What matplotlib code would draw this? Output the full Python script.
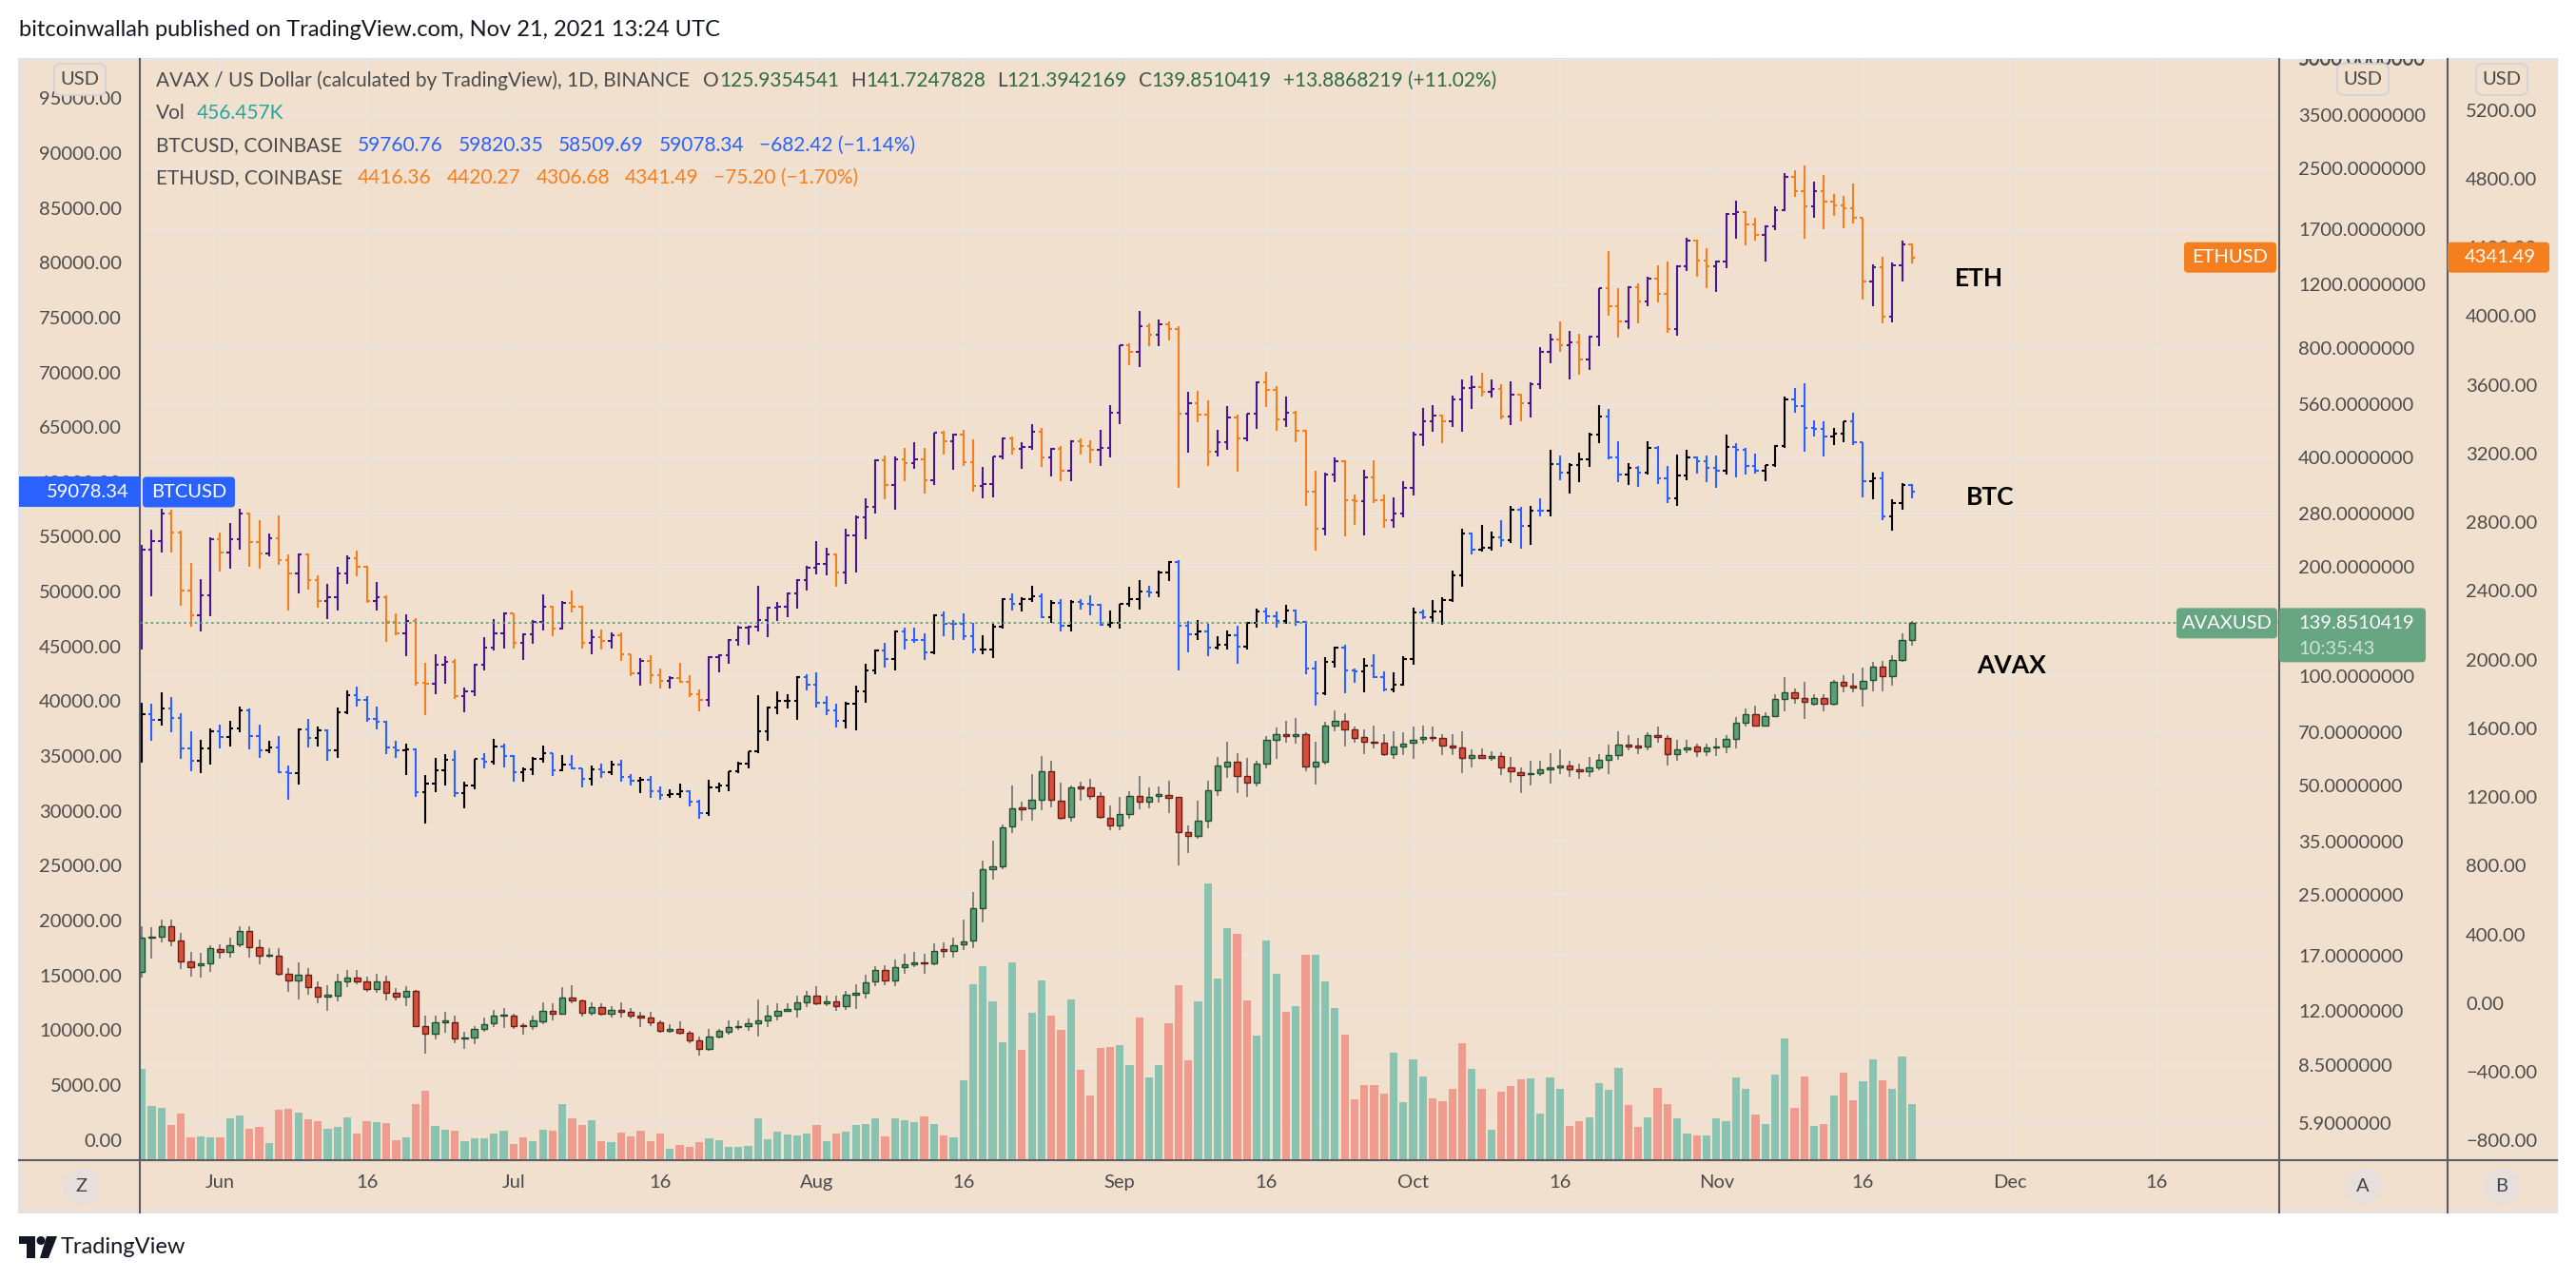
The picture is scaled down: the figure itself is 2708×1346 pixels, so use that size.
import matplotlib
matplotlib.use("Agg")
import matplotlib.pyplot as plt
import matplotlib.dates as mdates
import matplotlib.transforms as mtransforms
from matplotlib.collections import LineCollection
from matplotlib.patches import Rectangle, FancyBboxPatch, Circle, Polygon
from matplotlib.lines import Line2D
from matplotlib.ticker import FuncFormatter, NullLocator
import pandas as pd

plt.rcParams['font.family'] = ['Lato', 'DejaVu Sans']

# ------------------------------------------------------------------ data
dates = pd.date_range('2021-05-24', '2021-11-21', freq='D')

# AVAX/USD (Binance) daily candles
avax_o = [15.3, 19.1, 19.15, 20.5, 18.7, 16.4, 15.98, 16.24,
          17.75, 17.45, 18.3, 19.9, 17.9, 16.95, 17.0, 15.2, 14.55, 15.1, 13.9, 13.1, 13.2, 14.4, 14.8, 14.4, 13.8, 14.45, 13.4, 13.1, 13.6, 10.9, 10.35, 11.15, 11.15, 10.05, 10.1, 10.66, 11.05, 11.6,
          11.65, 10.95, 10.9, 11.2, 12.0, 11.8, 13.0, 12.8, 11.85, 12.25, 11.8, 12.05, 11.9, 11.6, 11.5, 11.15, 10.55, 10.7, 10.4, 9.95, 9.4, 10.17, 10.5, 10.8, 10.9, 11.05, 11.25, 11.6, 12.0, 12.15, 12.65,
          13.2, 12.55, 12.7, 12.35, 13.3, 13.45, 14.4, 15.5, 14.5, 15.8, 16.1, 16.3, 16.2, 17.75, 17.55, 18.3, 18.75, 22.97, 29.4, 30.0, 38.6, 43.5, 43.3, 45.8, 54.8, 45.4, 41.0, 49.7, 49.3, 46.8, 40.7,
          38.8, 41.6, 46.7, 45.2, 46.7, 47.2, 46.5, 37.3, 36.3, 40.1, 48.5, 56.4, 58.1, 53.0, 51.0, 57.3, 66.9, 69.4, 68.6, 69.4, 56.4, 58.1, 73.3, 75.5, 71.2, 67.8, 66.1, 65.6, 60.9, 64.2,
          65.4, 67.0, 68.0, 67.6, 64.4, 63.7, 59.4, 60.6, 59.6, 60.1, 56.0, 54.4, 53.6, 54.1, 55.5, 55.9, 56.6, 55.5, 54.8, 56.0, 58.7, 60.7, 64.8, 64.4, 63.9, 69.0, 67.6, 61.1, 63.0, 63.9, 62.0,
          63.5, 64.0, 67.2, 74.6, 78.4, 73.1, 77.8, 86.6, 90.2, 87.0, 84.2, 87.0, 84.2, 96.3, 94.4, 92.6, 97.5, 106.1, 99.8, 110.9, 125.9354541]
avax_h = [20.5, 20.4, 21.4, 21.4, 19.6, 17.4, 17.3, 18.2,
          18.3, 19.1, 20.5, 20.5, 18.8, 17.8, 17.8, 15.7, 16.3, 15.7, 14.4, 14.1, 15.2, 15.5, 15.5, 14.85, 15.2, 15.0, 13.85, 14.0, 13.7, 11.65, 11.65, 11.9, 11.65, 10.5, 10.9, 11.5, 12.07, 12.2,
          11.8, 11.1, 11.6, 12.65, 12.55, 13.9, 14.1, 12.9, 12.65, 12.55, 12.35, 12.65, 12.2, 11.9, 11.9, 11.25, 11.0, 11.2, 10.55, 10.2, 10.7, 10.7, 11.3, 11.3, 11.4, 12.9, 12.45, 12.55, 12.6, 13.2, 13.6,
          14.05, 13.2, 13.2, 13.6, 14.2, 15.1, 15.95, 16.0, 16.6, 17.2, 17.4, 17.2, 18.4, 18.45, 19.0, 21.4, 25.5, 31.0, 35.2, 39.1, 50.0, 45.0, 53.8, 60.2, 58.5, 51.0, 50.0, 51.2, 52.3, 47.9, 44.0,
          46.5, 48.3, 53.0, 49.5, 49.7, 51.6, 46.6, 38.7, 45.3, 51.6, 59.8, 66.1, 61.2, 59.4, 58.4, 68.5, 72.0, 75.3, 76.7, 69.9, 66.1, 74.7, 80.3, 79.0, 72.7, 71.4, 73.3, 69.4, 70.3, 69.9,
          72.7, 73.3, 72.7, 69.4, 69.4, 70.3, 62.8, 63.2, 62.1, 61.6, 59.8, 56.0, 58.3, 58.3, 61.5, 62.8, 58.5, 57.3, 59.8, 61.1, 64.6, 70.5, 68.7, 67.6, 70.2, 72.5, 69.0, 66.7, 66.7, 65.0, 65.0,
          67.4, 68.7, 77.2, 81.4, 82.7, 79.4, 89.1, 99.6, 92.2, 96.7, 89.1, 89.1, 97.9, 100.3, 101.9, 105.7, 109.2, 110.0, 114.1, 130.8, 141.7247828]
avax_l = [14.8, 16.7, 18.5, 18.0, 15.6, 14.9, 14.8, 15.3,
          16.7, 16.8, 17.9, 16.8, 16.1, 16.8, 15.0, 13.5, 12.9, 13.3, 12.55, 12.0, 12.7, 13.9, 14.2, 13.5, 13.4, 12.8, 12.8, 12.36, 10.8, 9.15, 10.0, 10.4, 9.75, 9.4, 9.7, 10.5, 10.8, 10.75,
          10.7, 10.3, 10.6, 11.0, 11.25, 11.7, 12.55, 11.55, 11.65, 11.6, 11.5, 11.5, 11.4, 10.8, 10.85, 10.45, 10.4, 10.3, 9.75, 9.0, 9.3, 10.05, 10.3, 10.6, 10.55, 10.17, 10.8, 11.3, 11.95, 11.5, 12.3,
          12.4, 12.35, 12.0, 12.05, 12.15, 12.95, 14.05, 14.1, 14.0, 15.2, 15.8, 15.15, 16.0, 16.8, 16.8, 17.6, 17.8, 21.0, 27.5, 29.4, 37.0, 39.9, 39.9, 42.7, 43.5, 40.2, 39.8, 45.3, 45.7, 40.4, 37.7,
          37.7, 40.4, 42.9, 43.2, 44.8, 42.1, 30.2, 32.5, 35.66, 38.1, 46.7, 52.6, 47.6, 46.5, 49.7, 55.6, 59.2, 65.6, 65.2, 54.6, 50.3, 57.2, 70.7, 63.9, 65.6, 60.9, 63.2, 60.4, 59.2, 60.8,
          59.2, 65.2, 66.1, 60.8, 60.6, 54.1, 56.0, 59.2, 58.6, 53.3, 51.0, 47.6, 50.0, 53.2, 50.7, 53.9, 52.8, 52.2, 52.8, 55.0, 53.7, 58.7, 62.3, 61.1, 62.3, 65.7, 56.6, 58.5, 61.5, 59.8, 60.3,
          60.3, 61.5, 63.3, 72.5, 72.5, 72.5, 77.2, 79.8, 83.8, 76.2, 82.7, 80.1, 82.7, 90.2, 90.2, 82.4, 90.97, 90.97, 94.0, 109.2, 121.3942169]
avax_c = [19.1, 19.15, 20.5, 18.7, 16.4, 15.8, 16.24, 17.8,
          17.45, 18.2, 19.9, 17.9, 17.0, 17.05, 15.2, 14.55, 15.1, 13.9, 13.1, 13.25, 14.4, 14.8, 14.4, 13.8, 14.45, 13.4, 13.1, 13.6, 10.9, 10.35, 11.15, 11.25, 10.05, 10.1, 10.66, 10.98, 11.6, 11.7,
          10.9, 10.9, 11.25, 12.0, 11.8, 13.0, 12.8, 11.85, 12.25, 11.8, 12.05, 11.9, 11.65, 11.5, 11.15, 10.55, 10.7, 10.4, 9.95, 9.4, 10.17, 10.54, 10.8, 10.9, 11.05, 11.25, 11.6, 12.0, 12.15, 12.65, 13.2,
          12.55, 12.7, 12.35, 13.3, 13.45, 14.35, 15.5, 14.55, 15.8, 16.1, 16.3, 16.15, 17.5, 17.55, 18.2, 18.6, 22.97, 29.43, 30.0, 38.4, 43.3, 43.1, 45.8, 54.8, 45.8, 40.8, 49.4, 49.2, 46.8, 40.9, 38.8,
          41.6, 46.7, 45.2, 46.5, 47.4, 46.2, 37.3, 36.3, 40.1, 48.5, 56.6, 58.1, 53.0, 51.0, 57.3, 66.9, 69.4, 68.4, 69.4, 56.4, 58.1, 73.1, 75.5, 71.4, 67.6, 66.1, 65.4, 60.9, 64.2, 65.0,
          66.6, 68.0, 67.6, 64.4, 63.7, 59.4, 60.6, 59.6, 60.1, 56.0, 54.6, 53.4, 54.1, 55.5, 56.0, 56.6, 55.5, 54.8, 56.0, 58.7, 60.5, 64.8, 64.2, 63.7, 68.7, 67.9, 61.1, 63.0, 63.7, 62.0, 63.5,
          64.0, 67.2, 74.6, 78.4, 73.1, 77.8, 86.6, 90.2, 87.3, 84.9, 87.0, 84.2, 96.3, 94.4, 93.0, 96.8, 106.1, 100.2, 110.9, 125.96422, 139.8510419]
# AVAX volume, thousands
avax_vol = [745, 443, 424, 286, 382, 188, 195, 188,
            188, 344, 366, 255, 275, 141, 412, 420, 389, 336, 317, 255, 271, 352, 217, 317, 309, 302, 164, 188, 456, 569, 279, 248, 242, 157, 180, 180, 217, 242,
            134, 188, 157, 248, 242, 456, 344, 286, 329, 155, 151, 224, 196, 242, 159, 219, 91, 123, 110, 146, 178, 164, 110, 110, 119, 342, 169, 233, 210, 201, 219,
            288, 156, 219, 233, 288, 296, 342, 196, 342, 329, 310, 356, 296, 201, 187, 652, 1438, 1588, 1301, 963, 1620, 904, 1205, 1470, 1182, 1063, 1314, 738, 529, 919, 924,
            942, 776, 1166, 677, 776, 1119, 1433, 819, 1300, 2262, 1486, 1900, 1852, 1305, 1019, 1795, 1524, 1215, 1262, 1681, 1681, 1462, 1243, 1029, 500, 614, 614, 543, 881, 476,
            823, 686, 505, 481, 586, 957, 747, 586, 247, 562, 605, 662, 666, 381, 674, 584, 281, 319, 350, 631, 573, 753, 451, 271, 350, 589, 456, 340, 218, 201, 201,
            340, 319, 674, 584, 372, 297, 701, 998, 430, 685, 281, 297, 531, 717, 488, 648, 823, 653, 584, 849, 456.457]

# BTCUSD (Coinbase) daily bars
btc_o = [34700, 38800, 38300, 39300, 38450, 35700, 34600, 35700,
         37300, 36700, 37550, 39200, 36850, 35520, 35800, 33560, 33400, 37390, 36680, 37330, 35550, 39020, 40530, 40140, 38350, 38090, 35820, 35480, 35600, 31680, 32500, 33680, 34660, 31590, 32270, 34700, 34490, 35870,
         35040, 33520, 33800, 34700, 35290, 33690, 34220, 33860, 32880, 33810, 33510, 34260, 33100, 32720, 32820, 31780, 31420, 31520, 31780, 30840, 29790, 32140, 32290, 33580, 34290, 35400, 37270, 39460, 40020, 40020, 42240,
         41490, 39850, 39150, 38190, 39740, 40870, 42830, 44630, 43830, 46330, 45600, 45570, 44420, 47830, 47100, 47030, 45940, 44690, 44700, 46760, 49340, 48880, 49300, 49550, 47700, 48990, 46850, 49080, 48910, 48810, 46990,
         47150, 48850, 49280, 50030, 49940, 51770, 52660, 46860, 46070, 46400, 44850, 45160, 46060, 44960, 47110, 48150, 47760, 47300, 48310, 47250, 43010, 40700, 43570, 44890, 42840, 42700, 43210, 42200, 41040, 41520,
         43820, 48140, 47670, 48200, 49250, 51490, 55340, 53800, 53970, 54960, 54680, 57490, 56000, 57370, 57360, 61670, 60880, 61530, 62040, 64300, 66000, 62200, 60690, 61300, 60850, 63080, 60330, 58470, 60620, 62260, 61880,
         61320, 61000, 63230, 62940, 61440, 61010, 61530, 63300, 67540, 66940, 64900, 64820, 64150, 64400, 65500, 63610, 60110, 60360, 56900, 58100, 59760.76]
btc_h = [39900, 39800, 40800, 40400, 38900, 37300, 36500, 37500,
         37900, 38200, 39500, 39300, 37900, 36400, 36800, 34100, 37500, 38400, 37700, 37450, 39400, 41000, 41300, 40500, 39500, 38200, 36400, 36100, 35700, 33300, 34800, 35200, 35500, 32700, 34750, 35300, 36600, 36100,
         35050, 33950, 34950, 35950, 35300, 35100, 35050, 33900, 34100, 34300, 34600, 34650, 33350, 33100, 33200, 32250, 31950, 32450, 31900, 31050, 32800, 32600, 33650, 34500, 35450, 40550, 39550, 40900, 40650, 42300, 42450,
         42600, 40450, 39750, 39950, 41400, 43400, 44700, 45300, 46450, 46700, 46750, 46200, 47900, 48150, 47400, 48000, 47150, 46000, 47050, 49400, 49800, 49500, 50500, 49850, 49250, 49350, 49200, 49300, 49650, 48900, 48250,
         48900, 50400, 51050, 50550, 51900, 52800, 52900, 47350, 47400, 47050, 45950, 46450, 46850, 47250, 48450, 48500, 48200, 48800, 48350, 47350, 43650, 44000, 44950, 45150, 42950, 43950, 44300, 42750, 42600, 44100,
         48500, 48350, 49250, 49500, 51900, 55750, 55350, 56100, 55500, 56550, 57800, 57700, 57800, 58550, 62950, 62400, 61750, 62700, 64500, 67000, 66650, 63700, 61750, 61500, 63700, 63300, 61500, 62500, 62950, 62350, 62450,
         62450, 64300, 63550, 63100, 62600, 61550, 63350, 67800, 68550, 69000, 65600, 65500, 64950, 65550, 66350, 63630, 60850, 60950, 58400, 59900, 59820.35]
btc_l = [34400, 36400, 37800, 37200, 34700, 33600, 33400, 34200,
         35700, 35900, 37200, 35600, 34800, 35300, 33400, 31000, 32400, 35800, 35900, 34600, 34800, 38800, 39500, 38100, 37400, 35200, 34800, 33300, 31300, 28800, 31700, 32300, 31300, 30200, 32000, 33900, 34200, 34000,
         32700, 32700, 33300, 34400, 33200, 33600, 33800, 32100, 32300, 33000, 33300, 32700, 32300, 31600, 31150, 31050, 31200, 31150, 30400, 29300, 29500, 31700, 31800, 33400, 33900, 35250, 36400, 38800, 39300, 38300, 41000,
         39450, 38700, 37600, 37500, 37350, 39850, 42450, 43100, 42800, 44700, 45350, 43800, 44250, 45950, 45550, 45600, 44400, 44250, 43950, 46650, 48300, 48150, 49050, 47600, 47150, 46400, 46400, 48400, 47800, 46900, 46700,
         46600, 48600, 48400, 49500, 49500, 50950, 42800, 44450, 45550, 44150, 44750, 44750, 43400, 44700, 46700, 47050, 46750, 47050, 46850, 42500, 39600, 40550, 43100, 40700, 41700, 40800, 42100, 40900, 40800, 41400,
         43300, 47450, 47100, 46950, 49050, 50400, 53400, 53650, 53700, 54100, 54450, 53900, 54300, 56850, 56850, 60200, 58950, 60000, 61350, 63500, 62050, 60000, 59700, 59550, 60700, 59850, 58050, 57800, 60200, 60750, 59950,
         59450, 60700, 60400, 60700, 60750, 60100, 61350, 63100, 66350, 62800, 64150, 62300, 63400, 63600, 63400, 58600, 58400, 56500, 55600, 57450, 58509.69]
btc_c = [38800, 38300, 39300, 38450, 35700, 34600, 35700, 37300,
         36700, 37550, 39200, 36850, 35520, 35800, 33560, 33400, 37390, 36680, 37330, 35550, 39020, 40530, 40140, 38350, 38090, 35820, 35480, 35600, 31680, 32500, 33680, 34660, 31590, 32270, 34700, 34490, 35870, 35040,
         33520, 33800, 34700, 35290, 33690, 34220, 33860, 32880, 33810, 33510, 34260, 33100, 32720, 32820, 31780, 31420, 31520, 31780, 30840, 29790, 32140, 32290, 33580, 34290, 35400, 37270, 39460, 40020, 40020, 42240, 41490,
         39850, 39150, 38190, 39740, 40870, 42830, 44630, 43830, 46330, 45600, 45570, 44420, 47830, 47100, 47030, 45940, 44690, 44700, 46760, 49340, 48880, 49300, 49550, 47700, 48990, 46850, 49080, 48910, 48810, 46990, 47150,
         48850, 49280, 50030, 49940, 51770, 52660, 46860, 46070, 46400, 44850, 45160, 46060, 44960, 47110, 48150, 47760, 47300, 48310, 47250, 43010, 40700, 43570, 44890, 42840, 42700, 43210, 42200, 41040, 41520, 43820,
         48140, 47670, 48200, 49250, 51490, 55340, 53800, 53970, 54960, 54680, 57490, 56000, 57370, 57360, 61670, 60880, 61530, 62040, 64300, 66000, 62200, 60690, 61300, 60850, 63080, 60330, 58470, 60620, 62260, 61880, 61320,
         61000, 63230, 62940, 61440, 61010, 61530, 63300, 67540, 66940, 64900, 64820, 64150, 64400, 65500, 63610, 60110, 60360, 56900, 58100, 59760.76, 59078.34]

# ETHUSD (Coinbase) daily bars
eth_o = [2093, 2640, 2690, 2850, 2740, 2400, 2260, 2375,
         2700, 2625, 2700, 2850, 2685, 2615, 2705, 2580, 2500, 2613, 2460, 2340, 2365, 2500, 2590, 2540, 2340, 2365, 2220, 2150, 2225, 1865, 1860, 1970, 1985, 1785, 1815, 1970, 2070, 2150,
         2270, 2095, 2145, 2220, 2305, 2180, 2330, 2305, 2095, 2130, 2110, 2140, 2030, 1920, 1990, 1910, 1875, 1895, 1870, 1800, 1765, 2015, 2025, 2115, 2185, 2190, 2230, 2300, 2305, 2385, 2465,
         2535, 2555, 2610, 2505, 2725, 2830, 2890, 3160, 3015, 3165, 3145, 3165, 3045, 3320, 3270, 3310, 3150, 3010, 3020, 3180, 3285, 3225, 3240, 3325, 3175, 3225, 3100, 3270, 3245, 3220, 3230,
         3435, 3830, 3790, 3940, 3890, 3950, 3925, 3430, 3495, 3425, 3210, 3265, 3410, 3285, 3430, 3615, 3570, 3400, 3435, 3330, 2975, 2760, 3080, 3155, 2930, 2925, 3060, 2930, 2810, 2850,
         3000, 3310, 3390, 3420, 3385, 3515, 3580, 3585, 3560, 3575, 3415, 3545, 3495, 3605, 3790, 3865, 3830, 3845, 3745, 3880, 4160, 4060, 3970, 4170, 4085, 4220, 4130, 3925, 4290, 4440, 4325,
         4290, 4320, 4595, 4605, 4535, 4475, 4520, 4615, 4810, 4730, 4640, 4725, 4665, 4645, 4625, 4570, 4200, 4285, 3995, 4295, 4416.36]
eth_h = [2670, 2758, 2880, 2873, 2749, 2563, 2468, 2714,
         2741, 2796, 2878, 2855, 2810, 2736, 2840, 2613, 2618, 2620, 2490, 2440, 2539, 2605, 2632, 2544, 2454, 2372, 2271, 2262, 2243, 1983, 2033, 2019, 2005, 1838, 1975, 2128, 2235, 2276,
         2271, 2150, 2230, 2380, 2312, 2339, 2402, 2312, 2175, 2175, 2160, 2156, 2032, 2009, 2026, 1950, 1901, 1983, 1908, 1826, 2022, 2032, 2120, 2196, 2196, 2431, 2310, 2333, 2392, 2467, 2545,
         2692, 2653, 2620, 2761, 2840, 2938, 3166, 3186, 3183, 3232, 3268, 3235, 3323, 3330, 3317, 3340, 3284, 3121, 3185, 3291, 3297, 3268, 3372, 3350, 3235, 3242, 3274, 3287, 3277, 3339, 3482,
         3833, 3840, 4028, 3959, 3980, 3970, 3942, 3560, 3567, 3509, 3339, 3475, 3424, 3431, 3620, 3673, 3594, 3533, 3451, 3339, 3100, 3090, 3175, 3160, 2963, 3107, 3161, 2963, 2946, 3038,
         3328, 3465, 3482, 3424, 3536, 3629, 3652, 3669, 3629, 3605, 3618, 3550, 3615, 3822, 3895, 3971, 3914, 3895, 3885, 4165, 4377, 4165, 4175, 4191, 4229, 4294, 4317, 4298, 4457, 4445, 4393,
         4324, 4602, 4674, 4609, 4571, 4526, 4636, 4830, 4849, 4876, 4781, 4819, 4712, 4697, 4773, 4570, 4301, 4343, 4313, 4438, 4420.27]
eth_l = [2057, 2366, 2621, 2621, 2312, 2189, 2161, 2252,
         2511, 2531, 2640, 2539, 2531, 2599, 2552, 2284, 2386, 2408, 2303, 2235, 2284, 2440, 2484, 2331, 2284, 2101, 2139, 2019, 1847, 1677, 1800, 1860, 1773, 1691, 1786, 1937, 2052, 2066,
         2066, 1997, 2093, 2167, 2134, 2175, 2276, 2066, 2030, 2057, 2065, 1990, 1901, 1846, 1859, 1830, 1830, 1862, 1780, 1699, 1728, 1924, 1977, 2081, 2088, 2163, 2130, 2222, 2245, 2294, 2402,
         2496, 2490, 2424, 2441, 2506, 2702, 2849, 2931, 2875, 3036, 3111, 2964, 3019, 3193, 3104, 3127, 2980, 2938, 2944, 3166, 3193, 3111, 3219, 3121, 3068, 3036, 3036, 3195, 3141, 3127, 3175,
         3373, 3714, 3704, 3826, 3826, 3860, 2998, 3202, 3380, 3127, 3185, 3219, 3093, 3270, 3345, 3468, 3332, 3356, 3264, 2895, 2633, 2725, 3032, 2718, 2786, 2725, 2912, 2766, 2769, 2827,
         2953, 3246, 3328, 3260, 3356, 3328, 3458, 3533, 3526, 3400, 3366, 3390, 3412, 3575, 3724, 3792, 3632, 3659, 3689, 3823, 4001, 3876, 3925, 3955, 4058, 4077, 3902, 3883, 4260, 4229, 4161,
         4142, 4279, 4450, 4412, 4438, 4317, 4503, 4609, 4693, 4450, 4571, 4507, 4583, 4511, 4537, 4096, 4058, 3955, 3963, 4199, 4306.68]
eth_c = [2640, 2690, 2850, 2740, 2400, 2260, 2375, 2700,
         2625, 2700, 2850, 2685, 2615, 2705, 2580, 2500, 2613, 2460, 2340, 2365, 2500, 2590, 2540, 2340, 2365, 2220, 2150, 2225, 1865, 1860, 1970, 1985, 1785, 1815, 1970, 2070, 2150, 2270,
         2095, 2145, 2220, 2305, 2180, 2330, 2305, 2095, 2130, 2110, 2140, 2030, 1920, 1990, 1910, 1875, 1895, 1870, 1800, 1765, 2015, 2025, 2115, 2185, 2190, 2230, 2300, 2305, 2385, 2465, 2535,
         2555, 2610, 2505, 2725, 2830, 2890, 3160, 3015, 3165, 3145, 3165, 3045, 3320, 3270, 3310, 3150, 3010, 3020, 3180, 3285, 3225, 3240, 3325, 3175, 3225, 3100, 3270, 3245, 3220, 3230, 3435,
         3830, 3790, 3940, 3890, 3950, 3925, 3430, 3495, 3425, 3210, 3265, 3410, 3285, 3430, 3615, 3570, 3400, 3435, 3330, 2975, 2760, 3080, 3155, 2930, 2925, 3060, 2930, 2810, 2850, 3000,
         3310, 3390, 3420, 3385, 3515, 3580, 3585, 3560, 3575, 3415, 3545, 3495, 3605, 3790, 3865, 3830, 3845, 3745, 3880, 4160, 4060, 3970, 4170, 4085, 4220, 4130, 3925, 4290, 4440, 4325, 4290,
         4320, 4595, 4605, 4535, 4475, 4520, 4615, 4810, 4730, 4640, 4725, 4665, 4645, 4625, 4570, 4200, 4285, 3995, 4295, 4416.69, 4341.49]

# axis ticks
avax_ticks = [5000, 3500, 2500, 1700, 1200, 800, 560, 400, 280, 200, 100, 70, 50, 35, 25, 17, 12, 8.5, 5.9]
btc_ticks = list(range(0, 95001, 5000))
eth_ticks = list(range(-800, 5201, 400))
time_ticks = ['2021-06-01', '2021-06-16', '2021-07-01', '2021-07-16', '2021-08-01', '2021-08-16', '2021-09-01',
              '2021-09-16', '2021-10-01', '2021-10-16', '2021-11-01', '2021-11-16', '2021-12-01', '2021-12-16']
time_labels = ['Jun', '16', 'Jul', '16', 'Aug', '16', 'Sep', '16', 'Oct', '16', 'Nov', '16', 'Dec', '16']

for arr in (avax_o, avax_h, avax_l, avax_c, avax_vol, btc_o, btc_h, btc_l, btc_c, eth_o, eth_h, eth_l, eth_c):
    assert len(arr) == len(dates), len(arr)

# ------------------------------------------------------------------ style
BG = '#F2E0CF'
GRID = '#EAE5E2'
DIV = '#5B5D63'
TXT = '#4B4B4B'
UP_BTC, DN_BTC = '#000000', '#2962FF'
UP_ETH, DN_ETH = '#4A1592', '#F57F1E'
UP_FILL, UP_EDGE = '#5E9D77', '#1F4F30'
DN_FILL, DN_EDGE = '#D64F3C', '#6B1C13'
WICK = '#707070'
VOL_UP, VOL_DN = '#8BC3B3', '#EF9B8E'
AVAX_LBL = '#68A583'
LS = 14.5

W, H = 2708, 1346
fig = plt.figure(figsize=(W / 100, H / 100), dpi=100)
fig.patch.set_facecolor('white')
PX = mtransforms.Affine2D().scale(1, -1).translate(0, H)   # pixel coords, origin top-left

FL, FR, FT, FB = 20, 2688, 62, 1275
PL, PR, PT, PB = 147, 2396, 62, 1220
AB = 2573

fig.add_artist(Rectangle((FL, FT), FR - FL, FB - FT, transform=PX, facecolor=BG,
                         edgecolor='#E0E3EB', lw=1.5, zorder=-10))

rect = [PL / W, 1 - PB / H, (PR - PL) / W, (PB - PT) / H]
ax_g = fig.add_axes(rect, label='grid')
ax_v = fig.add_axes(rect, label='vol', sharex=ax_g)
ax_b = fig.add_axes(rect, label='btc', sharex=ax_g)
ax_e = fig.add_axes(rect, label='eth', sharex=ax_g)
ax_a = fig.add_axes(rect, label='avax', sharex=ax_g)
for i, a in enumerate([ax_g, ax_v, ax_b, ax_e, ax_a]):
    a.set_zorder(i)
    a.patch.set_visible(False)
    for s in a.spines.values():
        s.set_visible(False)
    if a is not ax_g:
        a.tick_params(axis='x', which='both', bottom=False, labelbottom=False)

xd = mdates.date2num(dates)
jun1 = mdates.date2num(pd.Timestamp('2021-06-01'))
ax_g.set_xlim(jun1 - 8.21, jun1 + 210.56)

A_LO, A_HI = 4.650, 4820.0
# grid axis
ax_g.set_yscale('log')
ax_g.set_ylim(A_LO, A_HI)
ax_g.set_yticks(avax_ticks)
ax_g.yaxis.set_minor_locator(NullLocator())
ax_g.tick_params(axis='y', which='both', left=False, labelleft=False)
ax_g.set_xticks(mdates.date2num(pd.to_datetime(time_ticks)))
ax_g.set_xticklabels(time_labels)
ax_g.xaxis.set_minor_locator(NullLocator())
ax_g.tick_params(axis='x', length=0, pad=11, labelsize=LS, labelcolor=TXT)
ax_g.grid(True, color=GRID, lw=1.1)

# volume
ax_v.set_ylim(0, 9005)
vcol = [VOL_UP if c >= o else VOL_DN for o, c in zip(avax_o, avax_c)]
ax_v.bar(xd, avax_vol, width=0.8, color=vcol, linewidth=0)
ax_v.tick_params(axis='y', which='both', left=False, labelleft=False)

# BTC bars (left scale)
ax_b.set_ylim(-1865, 98586)
ax_b.set_yticks(btc_ticks)
ax_b.yaxis.set_major_formatter(FuncFormatter(lambda v, p: f'{v:.2f}'))
ax_b.tick_params(axis='y', length=0, pad=13.7, labelsize=LS, labelcolor=TXT)


def ohlc_segments(o, h, l, c, tick=0.33):
    up, dn = [], []
    for xi, oi, hi, li, ci in zip(xd, o, h, l, c):
        segs = [((xi, li), (xi, hi)), ((xi - tick, oi), (xi, oi)), ((xi, ci), (xi + tick, ci))]
        (up if ci >= oi else dn).extend(segs)
    return up, dn


bu, bd = ohlc_segments(btc_o, btc_h, btc_l, btc_c)
ax_b.add_collection(LineCollection(bu, colors=UP_BTC, linewidths=1.5, capstyle='butt'))
ax_b.add_collection(LineCollection(bd, colors=DN_BTC, linewidths=1.5, capstyle='butt'))

# ETH bars (B scale)
ax_e.set_ylim(-915, 5497)
ax_e.yaxis.tick_right()
ax_e.set_yticks(eth_ticks)
ax_e.yaxis.set_major_formatter(FuncFormatter(lambda v, p: f'{v:.2f}'.replace('-', '\u2212')))
ax_e.spines['right'].set_position(('outward', (AB - PR) * 0.72))
ax_e.tick_params(axis='y', length=0, pad=13.7, labelsize=LS, labelcolor=TXT)
eu, ed = ohlc_segments(eth_o, eth_h, eth_l, eth_c)
ax_e.add_collection(LineCollection(eu, colors=UP_ETH, linewidths=1.5, capstyle='butt'))
ax_e.add_collection(LineCollection(ed, colors=DN_ETH, linewidths=1.5, capstyle='butt'))

# AVAX candles (A scale, log)
ax_a.set_yscale('log')
ax_a.set_ylim(A_LO, A_HI)
ax_a.yaxis.tick_right()
ax_a.set_yticks(avax_ticks)
ax_a.yaxis.set_minor_locator(NullLocator())
ax_a.yaxis.set_major_formatter(FuncFormatter(lambda v, p: f'{v:.7f}'))
ax_a.tick_params(axis='y', which='both', length=0, pad=14.4, labelsize=LS, labelcolor=TXT)
ax_a.axhline(avax_c[-1], color='#5FA07E', lw=1.3, ls=(0, (1.4, 1.8)), zorder=1)
wicks = [((xi, li), (xi, hi)) for xi, li, hi in zip(xd, avax_l, avax_h)]
ax_a.add_collection(LineCollection(wicks, colors=WICK, linewidths=1.2, zorder=2))
BW = 0.62
for xi, oi, ci in zip(xd, avax_o, avax_c):
    up = ci >= oi
    ax_a.add_patch(Rectangle((xi - BW / 2, min(oi, ci)), BW, abs(ci - oi),
                             facecolor=UP_FILL if up else DN_FILL,
                             edgecolor=UP_EDGE if up else DN_EDGE, lw=1.0, zorder=3))

# ------------------------------------------------------------------ decorations
for xv in (PL, PR, AB):
    fig.add_artist(Line2D([xv, xv], [FT, FB], transform=PX, color=DIV, lw=1.5, zorder=6))
fig.add_artist(Line2D([FL, FR], [PB, PB], transform=PX, color=DIV, lw=1.5, zorder=6))


def ypx(ax, v):
    return H - ax.transData.transform((xd[-1], v))[1]


def box(x0, y0, w, h, color, r=5, z=8, ec='none', lw=0):
    fig.add_artist(FancyBboxPatch((x0, y0), w, h, boxstyle=f'round,pad=0,rounding_size={r}',
                                  transform=PX, facecolor=color, edgecolor=ec, lw=lw, zorder=z))


def ptext(x, y, s, color=TXT, size=LS, ha='left', va='center', z=9, **kw):
    return fig.text(x, y, s, transform=PX, color=color, fontsize=size, ha=ha, va=va, zorder=z, **kw)


# partially visible top label of the A scale
y5000 = ypx(ax_a, avax_ticks[0])
ptext(2416, y5000, f'{avax_ticks[0]:.7f}', z=5)
fig.add_artist(Rectangle((PR + 1, 0), AB - PR - 2, FT - 0.5, transform=PX, facecolor='white',
                         edgecolor='none', zorder=7))

# USD boxes
for cx in (84, 2484, 2630):
    box(cx - 27, 67, 54, 33, BG, r=7, ec='#D0D3DA', lw=1.3)
    ptext(cx, 83.5, 'USD', ha='center')

# BTC price label (left)
yb = ypx(ax_b, btc_c[-1])
fig.add_artist(Rectangle((FL, yb - 16), PL - FL, 32, transform=PX, facecolor=DN_BTC, edgecolor='none', zorder=8))
ptext(136, yb, f'{btc_c[-1]:.2f}', color='white', ha='right')
box(150, yb - 16, 97, 32, DN_BTC, r=4)
ptext(198.5, yb, 'BTCUSD', color='white', ha='center')

# ETH price labels
ye = ypx(ax_e, eth_c[-1])
box(2296, ye - 16, 97, 32, DN_ETH, r=4)
ptext(2344.5, ye, 'ETHUSD', color='white', ha='center')
box(AB, ye - 16, 107, 32, DN_ETH, r=4)
ptext(2591, ye, f'{eth_c[-1]:.2f}', color='white')

# AVAX price labels
ya = ypx(ax_a, avax_c[-1])
box(2288, ya - 16, 106, 32, AVAX_LBL, r=4)
ptext(2341, ya, 'AVAXUSD', color='white', ha='center')
box(PR, ya - 16, 154, 57, AVAX_LBL, r=4)
ptext(2416, ya, f'{avax_c[-1]:.7f}', color='white')
ptext(2416, ya + 27, '10:35:43', color='#CFE5D7')

# series names
ptext(2055, ypx(ax_e, eth_c[-1]) + 22, 'ETH', color='black', size=19, fontweight='bold')
ptext(2067, ypx(ax_b, btc_c[-1]) + 6, 'BTC', color='black', size=19, fontweight='bold')
ptext(2078, 700, 'AVAX', color='black', size=19, fontweight='bold')

# circles on the time strip
for cx, letter in ((85, 'Z'), (2484, 'A'), (2630, 'B')):
    fig.add_artist(Circle((cx, 1247.5), 19, transform=PX, facecolor='#E6DFDC', edgecolor='none', zorder=8))
    ptext(cx, 1247.5, letter, color='#434651', ha='center', size=14.5)

# title
ptext(20, 31, 'bitcoinwallah published on TradingView.com, Nov 21, 2021 13:24 UTC', color='#131722', size=17)

# TradingView logo
fig.add_artist(Polygon([(20, 1300), (37, 1300), (37, 1323), (28, 1323), (28, 1308), (20, 1308)],
                       closed=True, transform=PX, facecolor='#131722', edgecolor='none', zorder=8))
fig.add_artist(Circle((43, 1304.5), 4.5, transform=PX, facecolor='#131722', edgecolor='none', zorder=8))
fig.add_artist(Polygon([(49, 1300), (60, 1300), (51, 1323), (42, 1323)],
                       closed=True, transform=PX, facecolor='#131722', edgecolor='none', zorder=8))
ptext(64, 1312, 'TradingView', color='#131722', size=17)

# legend header
renderer = fig.canvas.get_renderer()


def seq(x, y, parts, size=15):
    for s, col, gap in parts:
        t = ptext(x, y, s, color=col, size=size)
        x += t.get_window_extent(renderer=renderer).width + gap


def fmt_chg(c, p, nd):
    ch = c - p
    s = f'{ch:+.{nd}f} ({ch / p * 100:+.2f}%)'
    return s.replace('-', '\u2212')


GV = '#2C6B44'
seq(164, 85, [('AVAX / US Dollar (calculated by TradingView), 1D, BINANCE', TXT, 14),
              ('O', TXT, 0), (f'{avax_o[-1]:.7f}', GV, 12),
              ('H', TXT, 0), (f'{avax_h[-1]:.7f}', GV, 12),
              ('L', TXT, 0), (f'{avax_l[-1]:.7f}', GV, 12),
              ('C', TXT, 0), (f'{avax_c[-1]:.7f}', GV, 12),
              (fmt_chg(avax_c[-1], avax_c[-2], 7), GV, 0)])
seq(164, 119, [('Vol', TXT, 12), (f'{avax_vol[-1]:.3f}K', '#26A69A', 0)])
seq(164, 153, [('BTCUSD, COINBASE', TXT, 16)] +
    [(f'{v:.2f}', DN_BTC, 16) for v in (btc_o[-1], btc_h[-1], btc_l[-1], btc_c[-1])] +
    [(fmt_chg(btc_c[-1], btc_c[-2], 2), DN_BTC, 0)])
seq(164, 187, [('ETHUSD, COINBASE', TXT, 16)] +
    [(f'{v:.2f}', DN_ETH, 16) for v in (eth_o[-1], eth_h[-1], eth_l[-1], eth_c[-1])] +
    [(fmt_chg(eth_c[-1], eth_c[-2], 2), DN_ETH, 0)])

fig.savefig('out.png', dpi=100, facecolor='white')
